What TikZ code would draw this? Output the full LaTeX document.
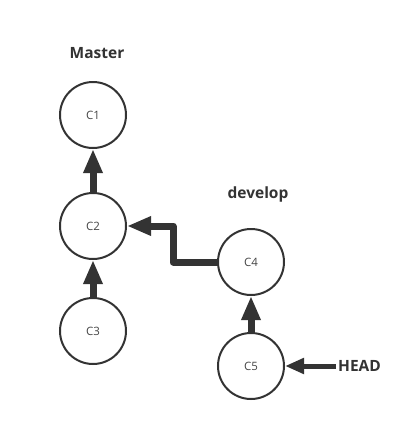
\documentclass[tikz,border=0pt]{standalone}
\usepackage{fontspec}
\setmainfont{Open Sans}
\usetikzlibrary{arrows.meta}
\definecolor{ink}{HTML}{333333}
\definecolor{txt}{HTML}{444444}
\begin{document}
\begin{tikzpicture}[x=1pt,y=-1pt,
  commit/.style={circle,draw=ink,line width=2pt,minimum size=66pt,inner sep=0pt,font=\fontsize{11.5}{13}\selectfont,text=txt},
  lbl/.style={font=\bfseries\fontsize{15.5}{17}\selectfont,text=ink},
  bigarrow/.style={draw=ink,line width=7pt,-{Triangle[length=24pt,width=18pt]},line join=round},
  headarrow/.style={draw=ink,line width=5pt,-{Triangle[length=19pt,width=15pt]}}]
\useasboundingbox (0,0) rectangle (407,424);
\node[commit] (c1) at (93,115) {C1};
\node[commit] (c2) at (93,226) {C2};
\node[commit] (c3) at (93,331) {C3};
\node[commit] (c4) at (251,262) {C4};
\node[commit] (c5) at (251,366) {C5};
\node[lbl] (master) at (97,53) {Master};
\node[lbl] (develop) at (258,194) {develop};
\node[lbl,anchor=west,inner sep=2pt] (head) at (336,366) {HEAD};
\draw[bigarrow] (c2) -- (c1);
\draw[bigarrow] (c3) -- (c2);
\draw[bigarrow] (c5) -- (c4);
\draw[bigarrow] (c4.west) -- (173,262) -- (173,226) -- (c2.east);
\draw[headarrow] (head.west) -- (c5.east);
\end{tikzpicture}
\end{document}
